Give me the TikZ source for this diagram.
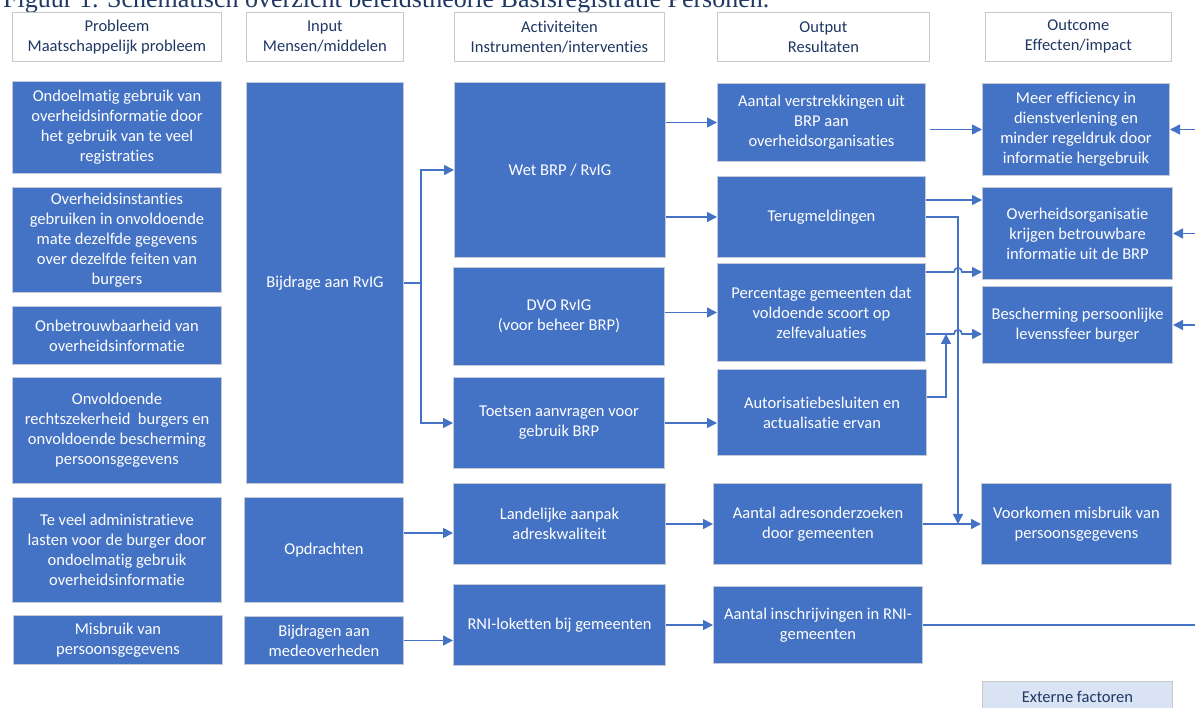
\documentclass[tikz,border=0pt]{standalone}
\usepackage{fontspec}
\setmainfont{Carlito}[Ligatures=NoCommon]
\newfontfamily\titlefont{Liberation Serif}
\usetikzlibrary{arrows.meta,calc}
\definecolor{boxblue}{HTML}{4472C4}
\definecolor{boxedge}{HTML}{C3CAD6}
\definecolor{hdredge}{HTML}{C8C8C8}
\definecolor{navy}{HTML}{1F3864}
\definecolor{extfill}{HTML}{DAE3F3}
\newcommand\mkbox[7]{\node[#1, anchor=north west, minimum width=#5-#3, minimum height=#6-#4] (#2) at (#3,#4) {#7};}
\tikzset{
  blk/.style={draw=boxedge, line width=1pt, fill=boxblue, text=white, align=center, inner sep=0pt, font=\fontsize{16.5}{20}\selectfont},
  hdr/.style={draw=hdredge, line width=0.8pt, fill=white, text=navy, align=center, inner sep=0pt, font=\fontsize{16.5}{20}\selectfont},
  extbox/.style={draw=hdredge, line width=0.8pt, fill=extfill, text=navy, align=center, inner sep=0pt, font=\fontsize{16.5}{20}\selectfont},
  conn/.style={draw=boxblue, line width=1.6pt, -{Triangle[length=10pt,width=10pt]}},
  plainline/.style={draw=boxblue, line width=1.6pt},
}
\begin{document}
\begin{tikzpicture}[x=1pt,y=-1pt]
\useasboundingbox (0,0) rectangle (1195,708);
\clip (0,0) rectangle (1195,708);
\node[anchor=base west, inner sep=0pt, text=navy, font=\titlefont\fontsize{26}{26}\selectfont] (title) at (3,8) {Figuur 1. Schematisch overzicht beleidstheorie Basisregistratie Personen.};
% headers
\mkbox{hdr}{h1}{12}{12}{221}{61}{Probleem\\Maatschappelijk probleem}
\mkbox{hdr}{h2}{246}{12}{403}{61}{Input\\Mensen/middelen}
\mkbox{hdr}{h3}{454}{12}{664}{61}{Activiteiten\\Instrumenten/interventies}
\mkbox{hdr}{h4}{717}{12}{929}{61}{Output\\Resultaten}
\mkbox{hdr}{h5}{985}{12}{1171}{61}{Outcome\\Effecten/impact}
% problems
\mkbox{blk}{p1}{12}{81}{221}{173}{Ondoelmatig gebruik van\\overheidsinformatie door\\het gebruik van te veel\\registraties}
\mkbox{blk}{p2}{12}{187}{221}{292}{Overheidsinstanties\\gebruiken in onvoldoende\\mate dezelfde gegevens\\over dezelfde feiten van\\burgers}
\mkbox{blk}{p3}{12}{306}{221}{364}{Onbetrouwbaarheid van\\overheidsinformatie}
\mkbox{blk}{p4}{12}{377}{221}{483}{Onvoldoende\\rechtszekerheid\ \ burgers en\\onvoldoende bescherming\\persoonsgegevens}
\mkbox{blk}{p5}{12}{497}{221}{602}{Te veel administratieve\\lasten voor de burger door\\ondoelmatig gebruik\\overheidsinformatie}
\mkbox{blk}{p6}{13}{615}{222}{664}{Misbruik van\\persoonsgegevens}
% input
\mkbox{blk}{i1}{246}{82}{403}{483}{Bijdrage aan RvIG}
\mkbox{blk}{i2}{244}{497}{403}{602}{Opdrachten}
\mkbox{blk}{i3}{244}{616}{403}{664}{Bijdragen aan\\medeoverheden}
% activities
\mkbox{blk}{a1}{454}{82}{665}{257}{Wet BRP / RvIG}
\mkbox{blk}{a2}{453}{267}{664}{365}{DVO RvIG\\(voor beheer BRP)}
\mkbox{blk}{a3}{453}{377}{664}{468}{Toetsen aanvragen voor\\gebruik BRP}
\mkbox{blk}{a4}{453}{483}{665}{564}{Landelijke aanpak\\adreskwaliteit}
\mkbox{blk}{a5}{453}{584}{665}{665}{RNI-loketten bij gemeenten}
% outputs
\mkbox{blk}{o1}{717}{83}{925}{161}{Aantal verstrekkingen uit\\BRP aan\\overheidsorganisaties}
\mkbox{blk}{o2}{717}{176}{925}{257}{Terugmeldingen}
\mkbox{blk}{o3}{717}{263}{925}{361}{Percentage gemeenten dat\\voldoende scoort op\\zelfevaluaties}
\mkbox{blk}{o4}{717}{369}{926}{455}{Autorisatiebesluiten en\\actualisatie ervan}
\mkbox{blk}{o5}{713}{483}{922}{564}{Aantal adresonderzoeken\\door gemeenten}
\mkbox{blk}{o6}{713}{586}{922}{663}{Aantal inschrijvingen in RNI-\\gemeenten}
% outcomes
\mkbox{blk}{e1}{982}{83}{1169}{175}{Meer efficiency in\\dienstverlening en\\minder regeldruk door\\informatie hergebruik}
\mkbox{blk}{e2}{982}{187}{1172}{279}{Overheidsorganisatie\\krijgen betrouwbare\\informatie uit de BRP}
\mkbox{blk}{e3}{982}{286}{1172}{363}{Bescherming persoonlijke\\levenssfeer burger}
\mkbox{blk}{e4}{981}{483}{1171}{564}{Voorkomen misbruik van\\persoonsgegevens}
\mkbox{extbox}{ext}{982}{681}{1172}{713}{Externe factoren}
% helper coordinates
\coordinate (vx) at (958,0);
\coordinate (ux) at (946,0);
\coordinate (edgeR) at (1200,0);
% input -> activities
\draw[conn] (i1.east) -- ++(17,0) coordinate (sp) |- (a1.west);
\draw[conn] (sp) |- (a3.west);
\draw[conn] ([yshift=-36pt]i2.north east) coordinate (s4) -- (s4 -| a4.west);
\draw[conn] (i3.east) -- (i3.east -| a5.west);
% activities -> outputs
\draw[conn] (a1.east |- o1.west) -- (o1.west);
\draw[conn] (a1.east |- o2.west) -- (o2.west);
\draw[conn] (a2.east |- o3.west) -- (o3.west);
\draw[conn] (a3.east) -- (a3.east -| o4.west);
\draw[conn] (a4.east) -- (a4.east -| o5.west);
\draw[conn] (a5.east) -- (a5.east -| o6.west);
% outputs -> outcomes
\draw[conn] ([xshift=4pt]o1.east |- e1.west) -- (e1.west);
\draw[conn] ([yshift=-24pt]o2.north east) coordinate (s3) -- (s3 -| e2.west);
\draw[conn] (o2.east) -| (vx |- o5.east);
\draw[conn] ([yshift=-9pt]o3.north east) coordinate (s1) -- ([xshift=-4pt]vx |- s1) .. controls +(0,-5.5) and +(0,-5.5) .. ([xshift=4pt]vx |- s1) -- (s1 -| e2.west);
\draw[conn] ([yshift=-71pt]o3.north east) coordinate (s2) -- ([xshift=-4pt]vx |- s2) .. controls +(0,-5.5) and +(0,-5.5) .. ([xshift=4pt]vx |- s2) -- (s2 -| e3.west);
\draw[conn] ([yshift=-28pt]o4.north east) -| (ux |- s2);
\draw[conn] (o5.east) -- (o5.east -| e4.west);
\draw[plainline] (o6.east) -- (edgeR |- o6.east);
% external factors arriving from the right
\draw[conn] (edgeR |- e1.east) -- (e1.east);
\draw[conn] (edgeR |- e2.east) -- (e2.east);
\draw[conn] (edgeR |- e3.east) -- (e3.east);
\end{tikzpicture}
\end{document}
